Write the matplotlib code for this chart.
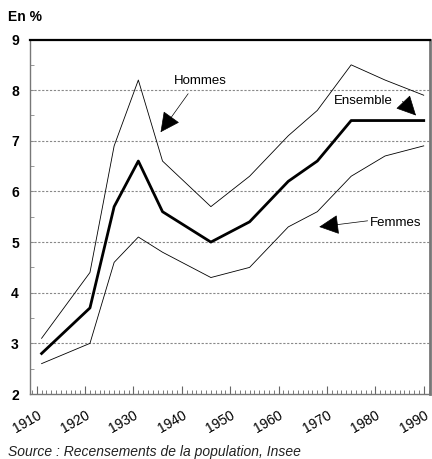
import matplotlib
matplotlib.use("Agg")
import matplotlib.pyplot as plt
from matplotlib.ticker import MultipleLocator

plt.rcParams["font.family"] = ["Liberation Sans", "DejaVu Sans"]

years = [1911, 1921, 1926, 1931, 1936, 1946, 1954, 1962, 1968, 1975, 1982, 1990]
hommes = [3.1, 4.4, 6.9, 8.2, 6.6, 5.7, 6.3, 7.1, 7.6, 8.5, 8.2, 7.9]
ensemble = [2.8, 3.7, 5.7, 6.6, 5.6, 5.0, 5.4, 6.2, 6.6, 7.4, 7.4, 7.4]
femmes = [2.6, 3.0, 4.6, 5.1, 4.8, 4.3, 4.5, 5.3, 5.6, 6.3, 6.7, 6.9]

xticks = list(range(1910, 1991, 10))
yticks = [2, 3, 4, 5, 6, 7, 8, 9]

fig = plt.figure(figsize=(4.32, 4.59), dpi=100)
ax = fig.add_axes([0.0694, 0.1416, 0.926, 0.7723])

for y in yticks[1:-1]:
    ax.axhline(y, color="#888888", lw=0.8, ls=(0, (2, 1.5)), zorder=1)

ax.plot(years, hommes, color="black", lw=0.6, zorder=3)
ax.plot(years, femmes, color="black", lw=0.6, zorder=3)
ax.plot(years, ensemble, color="black", lw=2.0, zorder=4)

ax.set_xlim(1908.6, 1991.3)
ax.set_ylim(2, 9)

ax.set_xticks(xticks)
ax.set_xticklabels([str(x) for x in xticks], rotation=30, ha="right",
                   rotation_mode="anchor", fontsize=10)
ax.xaxis.set_minor_locator(MultipleLocator(1))
ax.tick_params(axis="x", which="major", direction="in", length=6, width=0.8,
               color="#666666", pad=10)
ax.tick_params(axis="x", which="minor", direction="in", length=3, width=0.6,
               color="#666666")

ax.set_yticks(yticks)
ax.set_yticklabels([str(y) for y in yticks], fontsize=10, fontweight="bold")
ax.yaxis.set_minor_locator(MultipleLocator(0.5))
ax.tick_params(axis="y", which="both", direction="in", length=3, width=0.6,
               color="#888888", pad=8)

ax.spines["top"].set_color("black")
ax.spines["top"].set_linewidth(1.6)
for side in ["left", "bottom"]:
    ax.spines[side].set_color("#777777")
    ax.spines[side].set_linewidth(1.0)
ax.spines["right"].set_color("#777777")
ax.spines["right"].set_linewidth(2.0)

arrow = dict(arrowstyle="-|>,head_length=0.9,head_width=0.45", color="black",
             lw=0.5, mutation_scale=14, shrinkA=0, shrinkB=0)

ax.text(1943.9, 8.19, "Hommes", fontsize=9.5, ha="center", va="center")
ax.annotate("", xy=(1935.6, 7.17), xytext=(1941.3, 7.93), arrowprops=arrow)

ax.text(1977.5, 7.78, "Ensemble", fontsize=9.5, ha="center", va="center")
ax.annotate("", xy=(1988.4, 7.5), xytext=(1985.6, 7.78), arrowprops=arrow)

ax.text(1984.1, 5.38, "Femmes", fontsize=9.5, ha="center", va="center")
ax.annotate("", xy=(1968.4, 5.30), xytext=(1978.4, 5.42), arrowprops=arrow)

fig.text(0.018, 0.962, "En %", fontsize=10, fontweight="bold", ha="left", va="center")
fig.text(0.018, 0.016, "Source : Recensements de la population, Insee",
         fontsize=10, style="italic", ha="left", va="center", color="#222222")

fig.savefig("out.png", dpi=100)
